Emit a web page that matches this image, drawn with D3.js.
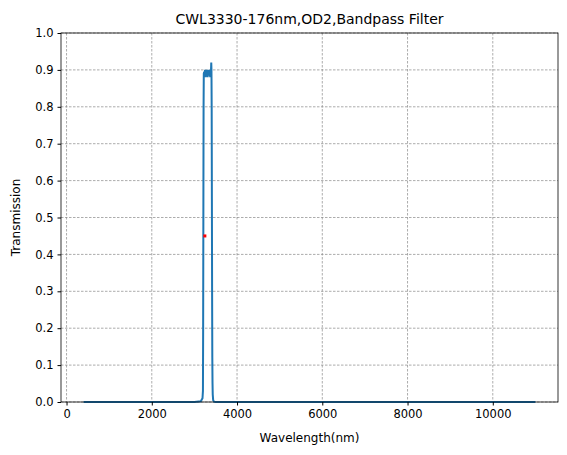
<!DOCTYPE html><html><head><meta charset="utf-8"><script src="https://cdn.jsdelivr.net/npm/d3@7"></script>
<style>body{margin:0;background:#fff}text{font-family:"DejaVu Sans",sans-serif}</style></head><body><svg id="c" width="567" height="455"></svg><script>
const wavelength=[400,1000,2000,3000,3150,3190,3200,3205,3210,3215,3220,3230,3240,3250,3260,3270,3280,3290,3300,3310,3320,3330,3340,3350,3360,3370,3380,3390,3395,3400,3405,3410,3415,3420,3425,3430,3440,3460,3500,4000,6000,8000,10000,11000];
const transmission=[0,0,0,0,0.002,0.01,0.03,0.2,0.5,0.8,0.89,0.895,0.885,0.9,0.88,0.895,0.9,0.885,0.9,0.88,0.895,0.9,0.885,0.89,0.9,0.88,0.895,0.9,0.92,0.9,0.8,0.55,0.3,0.12,0.05,0.02,0.005,0.001,0,0,0,0,0,0];
const marker=[[3245,0.45]];
const xTicks=[0,2000,4000,6000,8000,10000];
const yTicks=[0,0.1,0.2,0.3,0.4,0.5,0.6,0.7,0.8,0.9,1.0];
const svg=d3.select("#c");
const L=61,R=558,T=33,B=402;
const x=d3.scaleLinear().domain([-130,11530]).range([L,R]);
const y=d3.scaleLinear().domain([0,1]).range([B,T]);
const g=svg.append("g");
g.selectAll(".gx").data(xTicks).join("line").attr("x1",d=>x(d)).attr("x2",d=>x(d)).attr("y1",T).attr("y2",B).attr("stroke","#888").attr("stroke-width",0.7).attr("stroke-dasharray","2.5,1.5");
g.selectAll(".gy").data(yTicks).join("line").attr("y1",d=>y(d)).attr("y2",d=>y(d)).attr("x1",L).attr("x2",R).attr("stroke","#888").attr("stroke-width",0.7).attr("stroke-dasharray","2.5,1.5");
svg.append("path").datum(wavelength.map((w,i)=>[w,transmission[i]])).attr("fill","none").attr("stroke","#1f77b4").attr("stroke-width",2).attr("d",d3.line().x(d=>x(d[0])).y(d=>y(d[1])));
svg.selectAll(".m").data(marker).join("rect").attr("x",d=>x(d[0])-1.5).attr("y",d=>y(d[1])-1.5).attr("width",3).attr("height",3).attr("fill","red");
const xa=svg.append("g").attr("transform",`translate(0,${B})`).call(d3.axisBottom(x).tickValues(xTicks).tickFormat(d3.format("d")).tickSizeOuter(0).tickSize(3.5).tickPadding(4));
const ya=svg.append("g").attr("transform",`translate(${L},0)`).call(d3.axisLeft(y).tickValues(yTicks).tickFormat(d3.format(".1f")).tickSizeOuter(0).tickSize(3.5).tickPadding(4));
[xa,ya].forEach(a=>{a.selectAll("text").attr("font-size",11.5).attr("fill","#000");a.select(".domain").remove();});
svg.append("rect").attr("x",L).attr("y",T).attr("width",R-L).attr("height",B-T).attr("fill","none").attr("stroke","#000").attr("stroke-width",0.8);
svg.append("text").attr("x",(L+R)/2).attr("y",24).attr("text-anchor","middle").attr("font-size",14).text("CWL3330-176nm,OD2,Bandpass Filter");
svg.append("text").attr("x",(L+R)/2).attr("y",442).attr("text-anchor","middle").attr("font-size",12).text("Wavelength(nm)");
svg.append("text").attr("transform",`translate(20,${(T+B)/2}) rotate(-90)`).attr("text-anchor","middle").attr("font-size",12).text("Transmission");
</script></body></html>
